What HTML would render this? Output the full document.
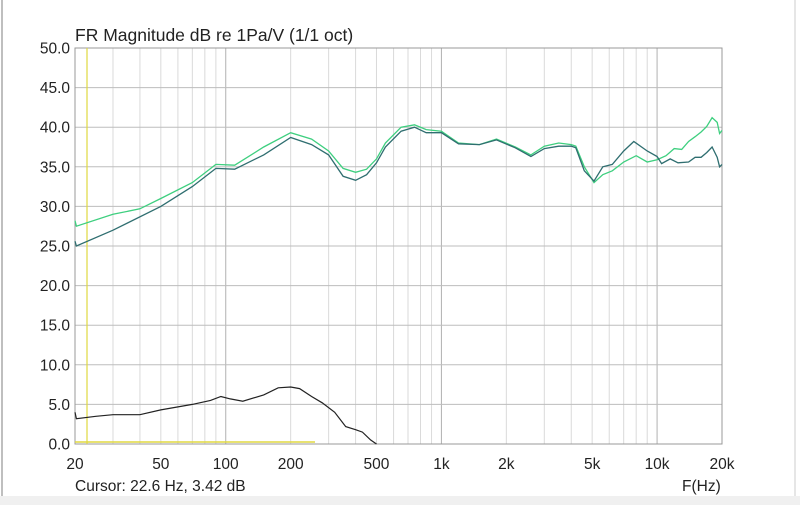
<!DOCTYPE html>
<html><head><meta charset="utf-8"><style>
html,body{margin:0;padding:0;background:#fff;width:800px;height:505px;overflow:hidden}
svg{display:block}
text{font-family:"Liberation Sans",Arial,sans-serif;fill:#222}
</style></head><body>
<svg id="s" width="800" height="505" viewBox="0 0 800 505">
<rect x="0" y="0" width="800" height="505" fill="#fff"/>
<rect x="0" y="496" width="800" height="9" fill="#f0f0f0"/>
<line x1="2" y1="0" x2="2" y2="496" stroke="#aaa" stroke-width="1.5"/>
<line x1="795" y1="0" x2="795" y2="496" stroke="#ccc" stroke-width="1"/>
<g id="grid"></g>
<g id="curves"></g>
<text x="75" y="41" font-size="17.5">FR Magnitude dB re 1Pa/V (1/1 oct)</text>
<g id="labels" font-size="15.5"></g>
<text x="75" y="491" font-size="15.5">Cursor: 22.6 Hz, 3.42 dB</text>
<text x="682" y="491" font-size="15.5">F(Hz)</text>
</svg>
<script>
const L=75,R=722,T=48,B=444;
const X=f=>L+(R-L)/3*Math.log10(f/20);
const Y=d=>B-(B-T)/50*d;
let g='',lb='';
const fr=[];
for(let dec of [10,100,1000,10000])for(let m=1;m<10;m++){const f=m*dec;if(f>20&&f<20000)fr.push(f);}
for(const f of fr){const maj=(f==100||f==1000||f==10000);
g+=`<line x1="${X(f)}" y1="${T}" x2="${X(f)}" y2="${B}" stroke="${maj?'#b0b0b0':'#dadada'}" stroke-width="1"/>`;}
for(let d=5;d<50;d+=5)g+=`<line x1="${L}" y1="${Y(d)}" x2="${R}" y2="${Y(d)}" stroke="#bdbdbd" stroke-width="1"/>`;
g+=`<rect x="${L}" y="${T}" width="${R-L}" height="${B-T}" fill="none" stroke="#999"/>`;
g+=`<line x1="87" y1="${T}" x2="87" y2="${B}" stroke="#e0d840" stroke-width="1.2"/>`;
g+=`<line x1="${L}" y1="442" x2="315" y2="442" stroke="#e0d840" stroke-width="1.5"/>`;
document.getElementById('grid').innerHTML=g;
for(let d=0;d<=50;d+=5)lb+=`<text x="70" y="${Y(d)+5.5}" text-anchor="end">${d.toFixed(1)}</text>`;
for(const [f,t] of [[20,'20'],[50,'50'],[100,'100'],[200,'200'],[500,'500'],[1000,'1k'],[2000,'2k'],[5000,'5k'],[10000,'10k'],[20000,'20k']])
lb+=`<text x="${X(f)}" y="469" text-anchor="middle">${t}</text>`;
document.getElementById('labels').innerHTML=lb;
const lg=[[20,28.2],[20.3,27.5],[30,29],[40,29.7],[50,31],[70,33],[90,35.3],[110,35.2],[150,37.5],[200,39.3],[250,38.5],[300,37],[350,34.8],[400,34.3],[450,34.7],[500,36],[550,38],[650,40],[750,40.3],[850,39.7],[1000,39.5],[1200,38],[1500,37.8],[1800,38.5],[2200,37.5],[2600,36.5],[3000,37.6],[3500,38],[4000,37.8],[4200,37.6],[4600,35],[5100,33],[5600,34],[6200,34.5],[7000,35.6],[8000,36.4],[9000,35.6],[10000,35.9],[11000,36.4],[12000,37.3],[13000,37.2],[14000,38.2],[15000,38.8],[16000,39.4],[17000,40.1],[18000,41.2],[19000,40.6],[19500,39.2],[20000,39.6]];
const dk=[[20,25.6],[20.3,25],[30,27],[50,30],[70,32.5],[90,34.8],[110,34.7],[150,36.5],[200,38.7],[250,37.8],[300,36.5],[350,33.8],[400,33.3],[450,34],[500,35.5],[550,37.5],[650,39.5],[750,40],[850,39.3],[1000,39.3],[1200,37.9],[1500,37.8],[1800,38.4],[2200,37.4],[2600,36.3],[3000,37.3],[3500,37.6],[4000,37.6],[4200,37.4],[4600,34.5],[5100,33.2],[5600,35],[6200,35.3],[7000,37],[7800,38.2],[9000,37],[10000,36.3],[10500,35.4],[11500,36],[12500,35.5],[14000,35.6],[15000,36.2],[16000,36.2],[17000,36.8],[18000,37.5],[19000,36.2],[19500,35],[20000,35.3]];
const bk=[[20,4],[20.3,3.2],[25,3.5],[30,3.7],[40,3.7],[50,4.3],[70,5],[85,5.5],[95,6],[105,5.7],[120,5.4],[150,6.2],[175,7.1],[200,7.2],[220,7],[250,6],[280,5.2],[320,4],[360,2.2],[400,1.8],[430,1.5],[470,0.5],[500,0]];
const P=a=>'M'+a.map(p=>X(p[0]).toFixed(1)+','+Y(p[1]).toFixed(1)).join(' L');
document.getElementById('curves').innerHTML=
`<path d="${P(lg)}" fill="none" stroke="#3ecf7f" stroke-width="1.3"/>`+
`<path d="${P(dk)}" fill="none" stroke="#2f6e70" stroke-width="1.3"/>`+
`<path d="${P(bk)}" fill="none" stroke="#222" stroke-width="1.2"/>`;
</script>
</body></html>
